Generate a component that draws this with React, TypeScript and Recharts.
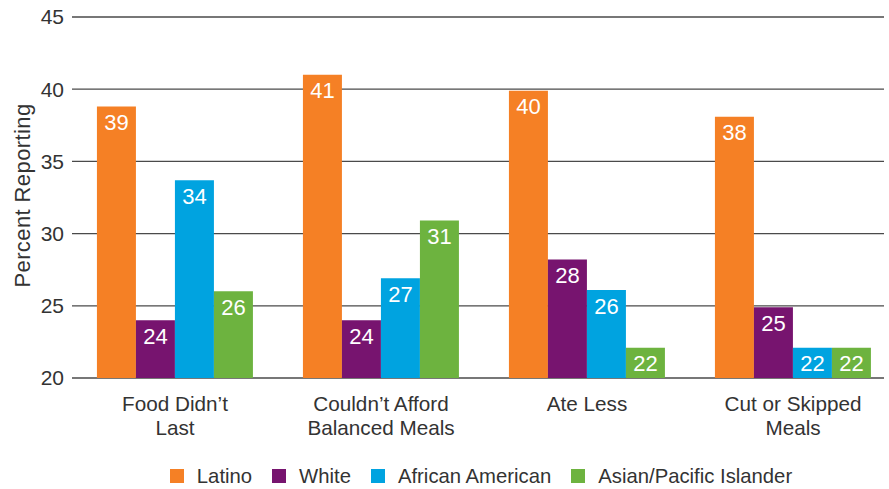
import { Bar, BarChart, CartesianGrid, LabelList, Legend, XAxis, YAxis } from "recharts"

const categories = [
  ["Food Didn\u2019t", "Last"],
  ["Couldn\u2019t Afford", "Balanced Meals"],
  ["Ate Less"],
  ["Cut or Skipped", "Meals"],
]
const latino = [38.8, 41.0, 39.9, 38.1]
const white = [24.0, 24.0, 28.2, 24.9]
const africanAmerican = [33.7, 26.9, 26.1, 22.1]
const asianPacific = [26.0, 30.9, 22.1, 22.1]
const yTicks = [20, 25, 30, 35, 40, 45]

const series = [
  { key: "latino", name: "Latino", color: "#F58025" },
  { key: "white", name: "White", color: "#77146F" },
  { key: "africanAmerican", name: "African American", color: "#00A3E0" },
  { key: "asianPacific", name: "Asian/Pacific Islander", color: "#6DB33F" },
]

const data = categories.map((lines, i) => ({
  category: lines.join(" "),
  latino: latino[i],
  white: white[i],
  africanAmerican: africanAmerican[i],
  asianPacific: asianPacific[i],
}))

const FONT = "'Liberation Sans', Arial, Helvetica, sans-serif"

function CategoryTick({ x, y, index }: any) {
  const lines = categories[index] ?? []
  return (
    <text x={x} y={y} textAnchor="middle" fill="#333" fontSize={20.7} fontFamily={FONT}>
      {lines.map((line, i) => (
        <tspan key={i} x={x} dy={i === 0 ? 33 : 23.5}>
          {line}
        </tspan>
      ))}
    </text>
  )
}

function YLabel({ viewBox }: any) {
  const cx = viewBox.x + 30
  const cy = viewBox.y + viewBox.height / 2 - 2
  return (
    <text
      x={cx}
      y={cy}
      transform={`rotate(-90, ${cx}, ${cy})`}
      textAnchor="middle"
      fill="#333"
      fontSize={22}
      letterSpacing={0.4}
      fontFamily={FONT}
    >
      Percent Reporting
    </text>
  )
}

function LegendContent() {
  return (
    <div
      style={{
        height: 26,
        display: "flex",
        justifyContent: "center",
        alignItems: "center",
        fontFamily: FONT,
        fontSize: 20.3,
        color: "#333",
        paddingLeft: 78,
      }}
    >
      {series.map((s, i) => (
        <div
          key={s.key}
          style={{ display: "flex", alignItems: "center", marginRight: i === series.length - 1 ? 0 : 20 }}
        >
          <span style={{ width: 14, height: 14, background: s.color, marginRight: 13, display: "inline-block" }} />
          <span>{s.name}</span>
        </div>
      ))}
    </div>
  )
}

export default function App() {
  return (
    <div style={{ position: "absolute", left: 0, top: 0, width: 889, height: 489, background: "#fff" }}>
      <BarChart
        width={889}
        height={489}
        data={data}
        margin={{ top: 17, right: 5, left: 0, bottom: 0 }}
        barCategoryGap="12.1%"
        barGap={0}
      >
        <CartesianGrid vertical={false} stroke="#4a4a4a" strokeWidth={1.3} />
        <XAxis
          dataKey="category"
          axisLine={false}
          tickLine={false}
          tickSize={0}
          tickMargin={0}
          height={85}
          interval={0}
          padding={{ left: 0, right: -12 }}
          tick={<CategoryTick />}
        />
        <YAxis
          domain={[20, 45]}
          ticks={yTicks}
          width={72}
          axisLine={false}
          tickLine={false}
          tickSize={0}
          tickMargin={8}
          tick={{ fill: "#333", fontSize: 21, fontFamily: FONT }}
          label={<YLabel />}
        />
        <Legend verticalAlign="bottom" content={<LegendContent />} />
        {series.map((s) => (
          <Bar key={s.key} dataKey={s.key} name={s.name} fill={s.color} isAnimationActive={false}>
            <LabelList
              dataKey={s.key}
              position="insideTop"
              offset={8}
              formatter={(v: any) => Math.round(Number(v))}
              fill="#fff"
              fontSize={22}
              fontFamily={FONT}
            />
          </Bar>
        ))}
      </BarChart>
    </div>
  )
}
